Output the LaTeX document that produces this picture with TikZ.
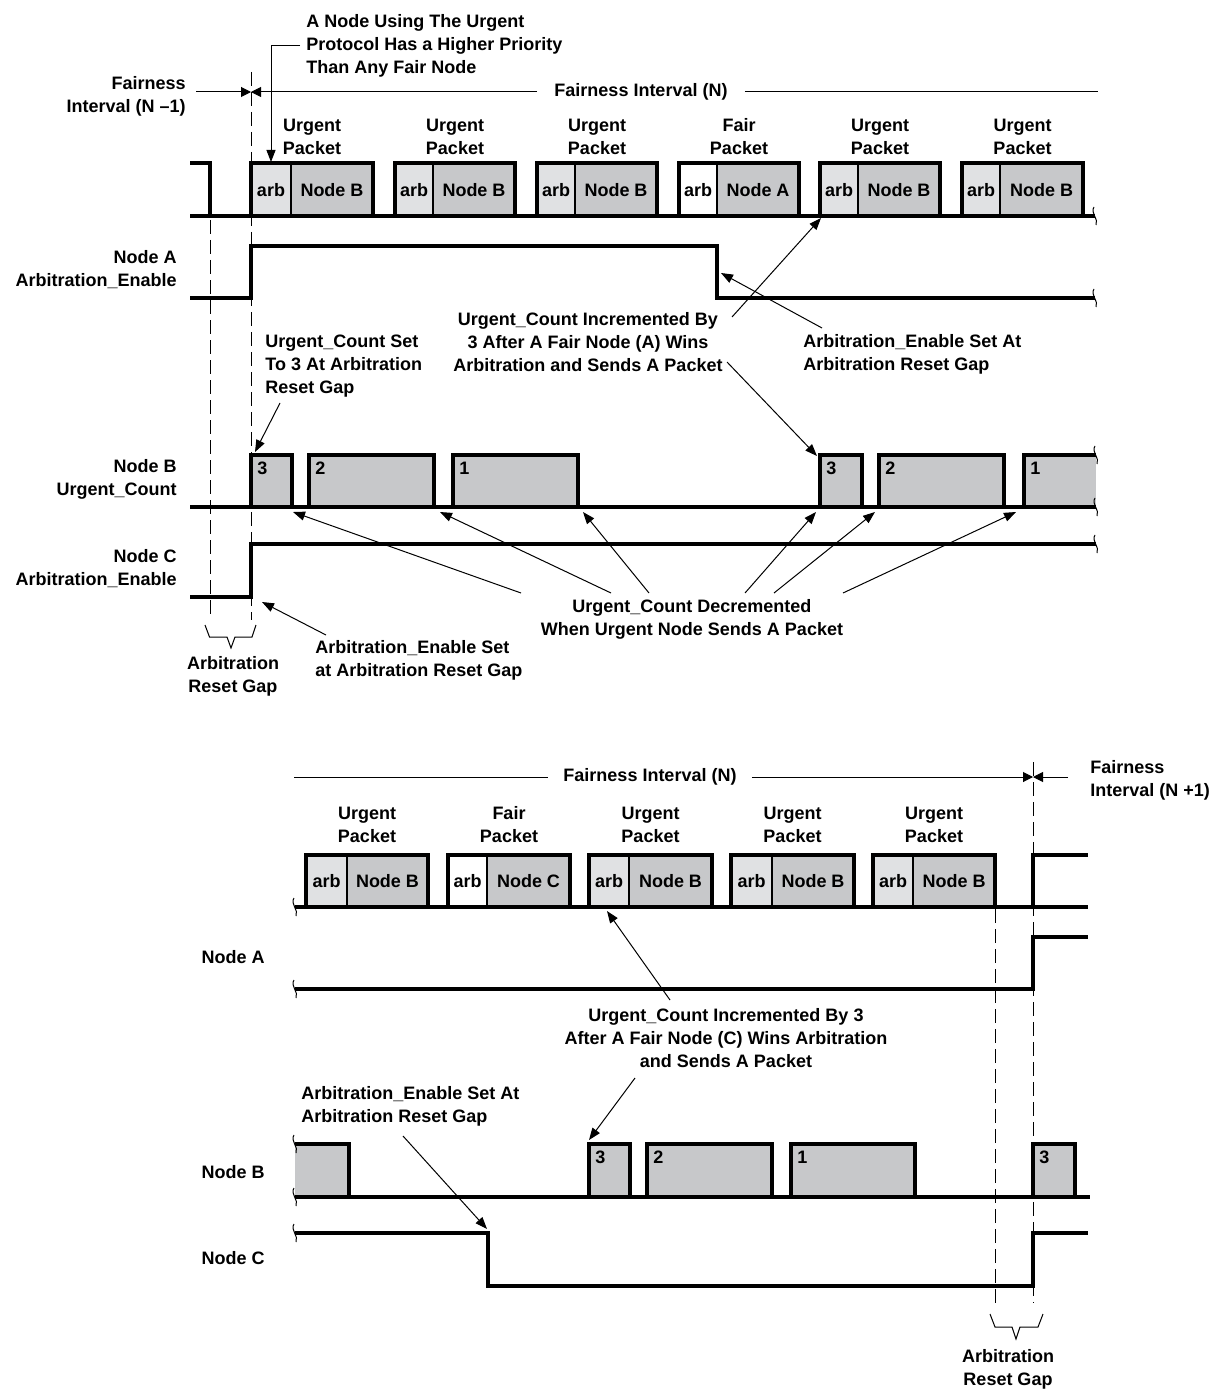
\documentclass[tikz,border=0pt]{standalone}
\usepackage{fontspec}
\setmainfont{Liberation Sans}
\usepackage{tikz}
\usetikzlibrary{arrows.meta,calc}
\definecolor{arbgray}{RGB}{224,225,227}
\definecolor{bodygray}{RGB}{199,200,202}
% small break mark on a cut signal line
\newcommand{\wavebreak}[2]{\draw[brk] (#1-1,#2-9) .. controls (#1-5,#2-3) and (#1+4,#2+3) .. (#1+1,#2+9);}

\begin{document}
\begin{tikzpicture}[x=0.5pt,y=-0.5pt,
  every node/.style={font=\bfseries\fontsize{9}{11.5}\selectfont,inner sep=0pt},
  sig/.style={line width=1.7pt},
  box/.style={line width=1pt},
  lead/.style={line width=0.5pt,-{Triangle[length=6pt,width=4.5pt]}},
  tick/.style={line width=0.5pt,-{Triangle[length=5pt,width=5pt]}},
  gap/.style={line width=0.5pt,dash pattern=on 7pt off 3pt},
  brk/.style={line width=0.5pt}]
  \useasboundingbox (0,0) rectangle (1215,1391);

  % ===================== upper part =====================
  % ---- reset gap markers ----
  \draw[gap] (210,220) -- (210,620);
  \draw[gap] (251,72) -- (251,620);
  \draw[brk] (205,625) -- (209.5,637) -- (227,637) -- (231,648) -- (235,637) -- (252,637) -- (256,625);
  \node[align=center] (gapTop) at (233,676) {Arbitration\\Reset Gap};

  % ---- fairness intervals ----
  \node[anchor=east,align=right] (fiPrev) at (186,96) {Fairness\\Interval (N --1)};
  \coordinate (fiMark) at (251,92);
  \coordinate (fiPrevEnd) at (196,92);
  \coordinate (fiEnd) at (1098,92);
  \node[inner xsep=8.5pt] (fiCur) at (641,92) {Fairness Interval (N)};
  \draw[tick] (fiPrevEnd) -- (fiMark);
  \draw[tick] (fiCur.west) -- (fiMark);
  \draw[line width=0.5pt] (fiCur.east) -- (fiEnd);

  % ---- priority note ----
  \node[anchor=west,align=left,inner xsep=3pt] (prioNote) at (300,46)
    {A Node Using The Urgent\\Protocol Has a Higher Priority\\Than Any Fair Node};
  \coordinate (prioTip) at (271,162);
  \draw[lead] (prioNote.west) -| (prioTip);

  % ---- bus ----
  \foreach \xa/\xb/\xc/\fa/\kind/\who/\i in {251/291/373/arbgray/Urgent/B/1,
                                              395/433/515/arbgray/Urgent/B/2,
                                              537/575/657/arbgray/Urgent/B/3,
                                              679/717/799/white/Fair/A/4,
                                              820/858/940/arbgray/Urgent/B/5,
                                              962/1000/1083/arbgray/Urgent/B/6}{
    \pgfmathsetmacro{\ca}{(\xa+\xb)/2}
    \pgfmathsetmacro{\cb}{(\xb+\xc)/2}
    \pgfmathsetmacro{\cp}{(\xa+\xc)/2}
    \filldraw[box,fill=\fa] (\xa,163) rectangle (\xb,216);
    \filldraw[box,fill=bodygray] (\xb,163) rectangle (\xc,216);
    \draw[sig] (\xa,216) -- (\xa,163) -- (\xc,163) -- (\xc,216);
    \node (arbT\i) at (\ca,190) {arb};
    \node (bodyT\i) at (\cb,190) {Node \who};
    \node[align=center] (pktT\i) at (\cp,137) {\kind\\Packet};
  }
  \draw[sig] (190,163) -- (210,163) -- (210,216);
  \draw[sig] (190,216) -- (1095,216);
  \wavebreak{1095}{216}

  % ---- node A enable ----
  \node[anchor=east,align=right] (sigA) at (177,270) {Node A\\Arbitration\_Enable};
  \draw[sig] (190,298) -- (251,298) -- (251,246) -- (717,246) -- (717,298) -- (1095,298);
  \wavebreak{1095}{298}
  \node[anchor=west,align=left] (enSetA) at (803,354) {Arbitration\_Enable Set At\\Arbitration Reset Gap};
  \coordinate (enSetAtail) at (822,328);
  \coordinate (enSetAtip) at (721,273);
  \draw[lead] (enSetAtail) -- (enSetAtip);

  % ---- increment note (A) ----
  \node[align=center] (incA) at (588,342)
    {Urgent\_Count Incremented By\\3 After A Fair Node (A) Wins\\Arbitration and Sends A Packet};
  \coordinate (incAtail1) at (732,317);
  \coordinate (incAtip1) at (821,218);
  \coordinate (incAtail2) at (727,362);
  \coordinate (incAtip2) at (817,456);
  \draw[lead] (incAtail1) -- (incAtip1);
  \draw[lead] (incAtail2) -- (incAtip2);

  % ---- count set note ----
  \node[anchor=west,align=left] (cntSet) at (265,366) {Urgent\_Count Set\\To 3 At Arbitration\\Reset Gap};
  \coordinate (cntSetTail) at (280,403);
  \coordinate (cntSetTip) at (255,452);
  \draw[lead] (cntSetTail) -- (cntSetTip);

  % ---- node B count ----
  \node[anchor=east,align=right] (sigB) at (177,479) {Node B\\Urgent\_Count};
  \foreach \xa/\xb/\n/\i in {251/292/3/1,309/434/2/2,453/578/1/3,820/862/3/4,879/1004/2/5}{
    \filldraw[sig,fill=bodygray] (\xa,507) -- (\xa,455) -- (\xb,455) -- (\xb,507);
    \node[anchor=north west] (cntT\i) at (\xa+6,462) {\n};
  }
  \fill[bodygray] (1024,455) rectangle (1096,507);
  \draw[sig] (1024,507) -- (1024,455) -- (1096,455);
  \node[anchor=north west] (cntT6) at (1030,462) {1};
  \draw[sig] (190,507) -- (1096,507);
  \wavebreak{1096}{455}
  \wavebreak{1096}{507}

  % ---- decrement note ----
  \node[align=center] (decNote) at (692,619) {Urgent\_Count Decremented\\When Urgent Node Sends A Packet};
  \foreach \tx/\hx/\k in {521/293/1,611/440/2,649/583/3,745/816/4,774/875/5,843/1016/6}{
    \coordinate (decTail\k) at (\tx,593);
    \coordinate (decTip\k) at (\hx,512);
    \draw[lead] (decTail\k) -- (decTip\k);
  }

  % ---- node C enable ----
  \node[anchor=east,align=right] (sigC) at (177,569) {Node C\\Arbitration\_Enable};
  \draw[sig] (190,597) -- (251,597) -- (251,544) -- (1096,544);
  \wavebreak{1096}{544}
  \node[anchor=west,align=left] (enSetC) at (315,660) {Arbitration\_Enable Set\\at Arbitration Reset Gap};
  \coordinate (enSetCtail) at (326,635);
  \coordinate (enSetCtip) at (262,602);
  \draw[lead] (enSetCtail) -- (enSetCtip);

  % ===================== lower part =====================
  % ---- reset gap markers ----
  \draw[gap] (995,909) -- (995,1303);
  \draw[gap] (1033,762) -- (1033,1303);
  \draw[brk] (990,1314) -- (995,1327) -- (1012,1327) -- (1016,1339) -- (1020,1327) -- (1038,1327) -- (1043,1314);
  \node[align=center] (gapBot) at (1008,1369) {Arbitration\\Reset Gap};

  % ---- fairness intervals ----
  \coordinate (fiStart) at (294,777);
  \coordinate (fiMarkB) at (1033,777);
  \coordinate (fiNextEnd) at (1068,777);
  \node[inner xsep=7.5pt] (fiCurB) at (650,777) {Fairness Interval (N)};
  \draw[line width=0.5pt] (fiStart) -- (fiCurB.west);
  \draw[tick] (fiCurB.east) -- (fiMarkB);
  \draw[tick] (fiNextEnd) -- (fiMarkB);
  \node[anchor=west,align=left] (fiNext) at (1090,780) {Fairness\\Interval (N +1)};

  % ---- bus ----
  \foreach \xa/\xb/\xc/\fa/\kind/\who/\i in {306/347/428/arbgray/Urgent/B/1,
                                              448/487/570/white/Fair/C/2,
                                              589/629/712/arbgray/Urgent/B/3,
                                              731/772/854/arbgray/Urgent/B/4,
                                              873/913/995/arbgray/Urgent/B/5}{
    \pgfmathsetmacro{\ca}{(\xa+\xb)/2}
    \pgfmathsetmacro{\cb}{(\xb+\xc)/2}
    \pgfmathsetmacro{\cp}{(\xa+\xc)/2}
    \filldraw[box,fill=\fa] (\xa,855) rectangle (\xb,907);
    \filldraw[box,fill=bodygray] (\xb,855) rectangle (\xc,907);
    \draw[sig] (\xa,907) -- (\xa,855) -- (\xc,855) -- (\xc,907);
    \node (arbL\i) at (\ca,881) {arb};
    \node (bodyL\i) at (\cb,881) {Node \who};
    \node[align=center] (pktL\i) at (\cp,825) {\kind\\Packet};
  }
  \draw[sig] (295,907) -- (1088,907);
  \draw[sig] (1033,907) -- (1033,855) -- (1088,855);
  \wavebreak{295}{907}

  % ---- node A ----
  \node[anchor=east] (sigAb) at (265,957) {Node A};
  \draw[sig] (295,989) -- (1033,989) -- (1033,937) -- (1088,937);
  \wavebreak{295}{989}

  % ---- increment note (C) ----
  \node[align=center] (incC) at (726,1038)
    {Urgent\_Count Incremented By 3\\After A Fair Node (C) Wins Arbitration\\and Sends A Packet};
  \coordinate (incCtail1) at (670,1000);
  \coordinate (incCtip1) at (607,911);
  \coordinate (incCtail2) at (635,1078);
  \coordinate (incCtip2) at (589,1140);
  \draw[lead] (incCtail1) -- (incCtip1);
  \draw[lead] (incCtail2) -- (incCtip2);

  % ---- node B ----
  \node[anchor=east] (sigBb) at (265,1172) {Node B};
  \fill[bodygray] (295,1144) rectangle (349,1197);
  \draw[sig] (295,1144) -- (349,1144) -- (349,1197);
  \foreach \xa/\xb/\n/\i in {589/630/3/1,647/772/2/2,791/915/1/3,1033/1075/3/4}{
    \filldraw[sig,fill=bodygray] (\xa,1197) -- (\xa,1144) -- (\xb,1144) -- (\xb,1197);
    \node[anchor=north west] (cntL\i) at (\xa+6,1151) {\n};
  }
  \draw[sig] (295,1197) -- (1090,1197);
  \wavebreak{295}{1144}
  \wavebreak{295}{1197}

  % ---- enable note (C) ----
  \node[anchor=west,align=left] (enSetL) at (301,1106) {Arbitration\_Enable Set At\\Arbitration Reset Gap};
  \coordinate (enSetLtail) at (403,1136);
  \coordinate (enSetLtip) at (487,1229);
  \draw[lead] (enSetLtail) -- (enSetLtip);

  % ---- node C ----
  \node[anchor=east] (sigCb) at (265,1258) {Node C};
  \draw[sig] (295,1233) -- (488,1233) -- (488,1286) -- (1033,1286) -- (1033,1233) -- (1088,1233);
  \wavebreak{295}{1233}
\end{tikzpicture}
\end{document}
